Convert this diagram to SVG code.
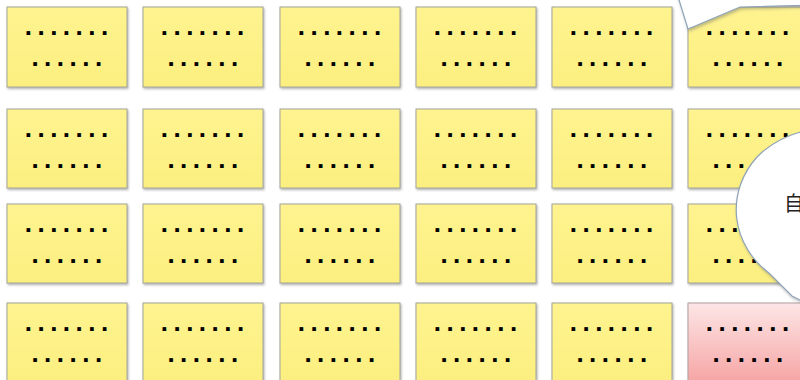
<svg xmlns="http://www.w3.org/2000/svg" width="800" height="380" viewBox="0 0 800 380">
<defs>
<linearGradient id="gy" x1="0" y1="0" x2="0" y2="1"><stop offset="0" stop-color="#FEF38F"/><stop offset="1" stop-color="#FCEF80"/></linearGradient>
<linearGradient id="gp" x1="0" y1="0" x2="0" y2="1"><stop offset="0" stop-color="#FDE6E6"/><stop offset="1" stop-color="#F6A4A4"/></linearGradient>
<filter id="sh" x="-10%" y="-10%" width="125%" height="130%"><feDropShadow dx="1" dy="1.5" stdDeviation="1" flood-color="#707070" flood-opacity="0.55"/></filter>
<filter id="sh2" x="-20%" y="-20%" width="140%" height="140%"><feDropShadow dx="1" dy="2" stdDeviation="1.5" flood-color="#606060" flood-opacity="0.4"/></filter>
</defs>
<style>
.b{fill:url(#gy);stroke:#A3A59A;stroke-width:1;filter:url(#sh)}
.p{fill:url(#gp);stroke:#B0A0A0;stroke-width:1;filter:url(#sh)}
.d{font-family:"Liberation Sans",Arial,sans-serif;font-weight:bold;font-size:26px;letter-spacing:5.5px;fill:#000}
.c{fill:#FFFFFF;stroke:#8FA3B8;stroke-width:1.2;filter:url(#sh2)}
.t{font-family:"Noto Sans CJK SC","Noto Sans CJK JP",sans-serif;font-size:20px;fill:#222}
</style>
<rect width="800" height="380" fill="#FFFFFF"/>

<g id="r1c1"><rect class="b" x="7" y="7" width="120" height="80"/><text class="d" x="24.7" y="34.7">.......</text><text class="d" x="31.4" y="65.7">......</text></g>
<g id="r1c2"><rect class="b" x="143" y="7" width="120" height="80"/><text class="d" x="160.7" y="34.7">.......</text><text class="d" x="167.4" y="65.7">......</text></g>
<g id="r1c3"><rect class="b" x="280" y="7" width="120" height="80"/><text class="d" x="297.7" y="34.7">.......</text><text class="d" x="304.4" y="65.7">......</text></g>
<g id="r1c4"><rect class="b" x="416" y="7" width="120" height="80"/><text class="d" x="433.7" y="34.7">.......</text><text class="d" x="440.4" y="65.7">......</text></g>
<g id="r1c5"><rect class="b" x="552" y="7" width="120" height="80"/><text class="d" x="569.7" y="34.7">.......</text><text class="d" x="576.4" y="65.7">......</text></g>
<g id="r1c6"><rect class="b" x="688" y="7" width="120" height="80"/><text class="d" x="705.7" y="34.7">.......</text><text class="d" x="712.4" y="65.7">......</text></g>

<g id="r2c1"><rect class="b" x="7" y="109" width="120" height="79"/><text class="d" x="24.7" y="136.7">.......</text><text class="d" x="31.4" y="167.7">......</text></g>
<g id="r2c2"><rect class="b" x="143" y="109" width="120" height="79"/><text class="d" x="160.7" y="136.7">.......</text><text class="d" x="167.4" y="167.7">......</text></g>
<g id="r2c3"><rect class="b" x="280" y="109" width="120" height="79"/><text class="d" x="297.7" y="136.7">.......</text><text class="d" x="304.4" y="167.7">......</text></g>
<g id="r2c4"><rect class="b" x="416" y="109" width="120" height="79"/><text class="d" x="433.7" y="136.7">.......</text><text class="d" x="440.4" y="167.7">......</text></g>
<g id="r2c5"><rect class="b" x="552" y="109" width="120" height="79"/><text class="d" x="569.7" y="136.7">.......</text><text class="d" x="576.4" y="167.7">......</text></g>
<g id="r2c6"><rect class="b" x="688" y="109" width="120" height="79"/><text class="d" x="705.7" y="136.7">.......</text><text class="d" x="712.4" y="167.7">......</text></g>

<g id="r3c1"><rect class="b" x="7" y="204" width="120" height="79"/><text class="d" x="24.7" y="231.7">.......</text><text class="d" x="31.4" y="262.7">......</text></g>
<g id="r3c2"><rect class="b" x="143" y="204" width="120" height="79"/><text class="d" x="160.7" y="231.7">.......</text><text class="d" x="167.4" y="262.7">......</text></g>
<g id="r3c3"><rect class="b" x="280" y="204" width="120" height="79"/><text class="d" x="297.7" y="231.7">.......</text><text class="d" x="304.4" y="262.7">......</text></g>
<g id="r3c4"><rect class="b" x="416" y="204" width="120" height="79"/><text class="d" x="433.7" y="231.7">.......</text><text class="d" x="440.4" y="262.7">......</text></g>
<g id="r3c5"><rect class="b" x="552" y="204" width="120" height="79"/><text class="d" x="569.7" y="231.7">.......</text><text class="d" x="576.4" y="262.7">......</text></g>
<g id="r3c6"><rect class="b" x="688" y="204" width="120" height="79"/><text class="d" x="705.7" y="231.7">.......</text><text class="d" x="712.4" y="262.7">......</text></g>

<g id="r4c1"><rect class="b" x="7" y="303" width="120" height="80"/><text class="d" x="24.7" y="330.7">.......</text><text class="d" x="31.4" y="361.7">......</text></g>
<g id="r4c2"><rect class="b" x="143" y="303" width="120" height="80"/><text class="d" x="160.7" y="330.7">.......</text><text class="d" x="167.4" y="361.7">......</text></g>
<g id="r4c3"><rect class="b" x="280" y="303" width="120" height="80"/><text class="d" x="297.7" y="330.7">.......</text><text class="d" x="304.4" y="361.7">......</text></g>
<g id="r4c4"><rect class="b" x="416" y="303" width="120" height="80"/><text class="d" x="433.7" y="330.7">.......</text><text class="d" x="440.4" y="361.7">......</text></g>
<g id="r4c5"><rect class="b" x="552" y="303" width="120" height="80"/><text class="d" x="569.7" y="330.7">.......</text><text class="d" x="576.4" y="361.7">......</text></g>
<g id="r4c6"><rect class="p" x="688" y="303" width="120" height="80"/><text class="d" x="705.7" y="330.7">.......</text><text class="d" x="712.4" y="361.7">......</text></g>

<g id="callout-top"><path class="c" d="M 676,-10 L 688,29 L 740,7 L 815,5 L 815,-10 Z"/></g>
<g id="callout-right"><path class="c" d="M 757,157 A 97,85 0 0 1 833,128 L 900,128 L 900,300 L 800,300 L 792,296 L 770,274 A 97,85 0 0 1 757,157 Z"/><text class="t" x="784" y="211">自</text></g>
</svg>
